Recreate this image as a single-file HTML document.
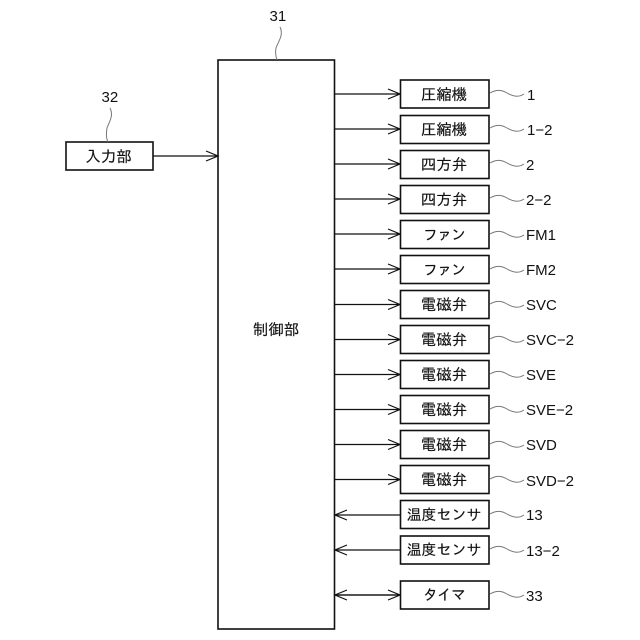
<!DOCTYPE html>
<html lang="ja"><head><meta charset="utf-8"><style>
html,body{margin:0;padding:0;background:#fff}
svg{display:block}
text{font-family:"Liberation Sans","IPAGothic","Noto Sans CJK JP",sans-serif;font-size:15px;fill:#111}
.c{text-anchor:middle;font-size:15.500px;stroke:#111;stroke-width:.15}
.t{font-size:15px}
.k{letter-spacing:-1px;font-size:15px}
.b{fill:#fff;stroke:#111;stroke-width:1.6}
.l{fill:none;stroke:#111;stroke-width:1.2}
.s{fill:none;stroke:#777;stroke-width:1}
</style></head><body>
<svg width="640" height="640" viewBox="0 0 640 640" xmlns="http://www.w3.org/2000/svg">
<defs>
<path id="sq" class="s" d="M490 0C497 -4 502 -3 507 0C512 3 518 5 524 1"/>
<path id="ar" class="l" d="M335 0H400M388 -5L400 0L388 5"/>
<path id="al" class="l" d="M400 0H335M347 -5L335 0L347 5"/>
</defs>
<rect class="b" x="218" y="60" width="116.500" height="569"/>
<text class="c" x="276" y="335">制御部</text>
<text x="269.500" y="21">31</text>
<path class="s" d="M280 27C284 35 278 42 276 48C275 53 276 57 277 60"/>
<rect class="b" x="66" y="142" width="87" height="28"/>
<text class="c" x="108.500" y="162">入力部</text>
<text x="101.500" y="102">32</text>
<path class="s" d="M110 108C114 116 109 122 107 128C106 134 106 138 108 142"/>
<path class="l" d="M153 156H218M206 151L218 156L206 161"/>

<g><use href="#ar" y="94"/><rect class="b" x="400.500" y="80" width="88.500" height="28"/><text class="c" x="444" y="100">圧縮機</text><use href="#sq" y="93"/><text x="527" y="100">1</text></g>
<g><use href="#ar" y="129"/><rect class="b" x="400.500" y="115.500" width="88.500" height="28"/><text class="c" x="444" y="135">圧縮機</text><use href="#sq" y="128"/><text x="527" y="135">1−2</text></g>
<g><use href="#ar" y="164"/><rect class="b" x="400.500" y="150.500" width="88.500" height="28"/><text class="c" x="444" y="170">四方弁</text><use href="#sq" y="163"/><text x="526" y="170">2</text></g>
<g><use href="#ar" y="199"/><rect class="b" x="400.500" y="185.500" width="88.500" height="28"/><text class="c" x="444" y="205">四方弁</text><use href="#sq" y="198"/><text x="526" y="205">2−2</text></g>
<g><use href="#ar" y="234"/><rect class="b" x="400.500" y="220.500" width="88.500" height="28"/><text class="c k" x="444" y="240">ファン</text><use href="#sq" y="234"/><text x="526" y="240">FM1</text></g>
<g><use href="#ar" y="269"/><rect class="b" x="400.500" y="255.500" width="88.500" height="28"/><text class="c k" x="444" y="275">ファン</text><use href="#sq" y="269"/><text x="526" y="275">FM2</text></g>
<g><use href="#ar" y="304.500"/><rect class="b" x="400.500" y="290.500" width="88.500" height="28"/><text class="c" x="444" y="310">電磁弁</text><use href="#sq" y="304"/><text x="526" y="310">SVC</text></g>
<g><use href="#ar" y="339.500"/><rect class="b" x="400.500" y="325.500" width="88.500" height="28"/><text class="c" x="444" y="345">電磁弁</text><use href="#sq" y="339"/><text x="526" y="345">SVC−2</text></g>
<g><use href="#ar" y="374.500"/><rect class="b" x="400.500" y="360.500" width="88.500" height="28"/><text class="c" x="444" y="380">電磁弁</text><use href="#sq" y="374"/><text x="526" y="380">SVE</text></g>
<g><use href="#ar" y="409.500"/><rect class="b" x="400.500" y="395.500" width="88.500" height="28"/><text class="c" x="444" y="415">電磁弁</text><use href="#sq" y="409"/><text x="526" y="415">SVE−2</text></g>
<g><use href="#ar" y="444.500"/><rect class="b" x="400.500" y="430.500" width="88.500" height="28"/><text class="c" x="444" y="450">電磁弁</text><use href="#sq" y="444"/><text x="526" y="450">SVD</text></g>
<g><use href="#ar" y="479.500"/><rect class="b" x="400.500" y="465.500" width="88.500" height="28"/><text class="c" x="444" y="485">電磁弁</text><use href="#sq" y="479"/><text x="526" y="486">SVD−2</text></g>
<g><use href="#al" y="515"/><rect class="b" x="400.500" y="500.500" width="88.500" height="28"/><text class="c t" x="444" y="520">温度センサ</text><use href="#sq" y="514"/><text x="526" y="520">13</text></g>
<g><use href="#al" y="550"/><rect class="b" x="400.500" y="536" width="88.500" height="28"/><text class="c t" x="444" y="555">温度センサ</text><use href="#sq" y="549"/><text x="526" y="556">13−2</text></g>
<g><use href="#al" y="595"/><use href="#ar" y="595"/><rect class="b" x="400.500" y="581" width="88.500" height="28"/><text class="c k" x="444" y="600">タイマ</text><use href="#sq" y="594"/><text x="526" y="601">33</text></g>
</svg>
</body></html>
